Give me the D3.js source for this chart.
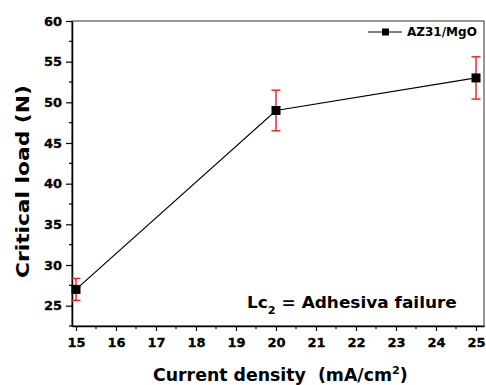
<!DOCTYPE html>
<html>
<head>
<meta charset="utf-8">
<script src="https://cdn.jsdelivr.net/npm/d3@7"></script>
<style>
  body { margin: 0; background: #fff; }
  text { font-family: "DejaVu Sans", "Liberation Sans", Arial, sans-serif; font-weight: bold; fill: #000; white-space: pre; }
</style>
</head>
<body>
<div id="chart"></div>
<script>
// data
const density = [15, 20, 25];
const load = [27, 49, 53];
const loadErr = [1.35, 2.5, 2.6];
const xTicks = [15, 16, 17, 18, 19, 20, 21, 22, 23, 24, 25];
const yTicks = [25, 30, 35, 40, 45, 50, 55, 60];
const seriesName = "AZ31/MgO";

const width = 486, height = 385;
const padL = 72, padR = 484, padT = 21, padB = 326;

const svg = d3.select("#chart").append("svg")
  .attr("width", width)
  .attr("height", height);

const x = d3.scaleLinear().domain([14.9, 25.2]).range([padL, padR]);
const y = d3.scaleLinear().domain([22.5, 60]).range([padB, padT]);

// stretch a text element along its own direction so it covers `w` px
function fitText(t, w, x0, y0, rot) {
  const bb = t.node().getBBox();
  const s = w / bb.width;
  t.attr("transform", "translate(" + x0 + "," + y0 + ")" + (rot ? " rotate(" + rot + ")" : "") + " scale(" + s + ",1)");
}

// frame
svg.append("rect")
  .attr("x", padL).attr("y", padT)
  .attr("width", padR - padL).attr("height", padB - padT)
  .attr("fill", "none").attr("stroke", "#333").attr("stroke-width", 1);

// minor ticks
const xMinor = d3.range(15.5, 25, 1);
const yMinor = d3.range(22.5, 60, 5);

svg.append("g").selectAll("line").data(xMinor).join("line")
  .attr("x1", d => x(d)).attr("x2", d => x(d))
  .attr("y1", padB).attr("y2", padB + 3)
  .attr("stroke", "#000").attr("stroke-width", 1.2);

svg.append("g").selectAll("line").data(yMinor).join("line")
  .attr("x1", padL - 3).attr("x2", padL)
  .attr("y1", d => y(d)).attr("y2", d => y(d))
  .attr("stroke", "#000").attr("stroke-width", 1.2);

// axes
const xAxis = svg.append("g")
  .attr("transform", "translate(0," + padB + ")")
  .call(d3.axisBottom(x).tickValues(xTicks).tickSize(5).tickSizeOuter(0).tickPadding(5));

const yAxis = svg.append("g")
  .attr("transform", "translate(" + padL + ",0)")
  .call(d3.axisLeft(y).tickValues(yTicks).tickSize(6).tickSizeOuter(0).tickPadding(4));

[xAxis, yAxis].forEach(g => {
  g.select(".domain").attr("stroke", "#000").attr("stroke-width", 1.5);
  g.selectAll(".tick line").attr("stroke", "#000").attr("stroke-width", 1.2);
  g.selectAll(".tick text")
    .style("font-family", "'DejaVu Sans', sans-serif")
    .style("font-weight", "bold")
    .style("font-size", "13px")
    .attr("fill", "#000")
    .attr("stroke", "#000")
    .attr("stroke-width", 0.3);
});
xAxis.selectAll(".tick text").attr("dy", "0.85em");

// line
const pts = density.map((d, i) => ({ x: d, y: load[i], e: loadErr[i] }));
svg.append("path")
  .datum(pts)
  .attr("fill", "none")
  .attr("stroke", "#000")
  .attr("stroke-width", 1.2)
  .attr("d", d3.line().x(d => x(d.x)).y(d => y(d.y)));

// error bars
const eb = svg.append("g").attr("stroke", "#ee1c1c").attr("stroke-width", 1.4);
pts.forEach(p => {
  eb.append("line")
    .attr("x1", x(p.x)).attr("x2", x(p.x))
    .attr("y1", y(p.y + p.e)).attr("y2", y(p.y - p.e));
  [p.y + p.e, p.y - p.e].forEach(v => {
    eb.append("line")
      .attr("x1", x(p.x) - 4.5).attr("x2", x(p.x) + 4.5)
      .attr("y1", y(v)).attr("y2", y(v));
  });
});

// markers
svg.append("g").selectAll("rect").data(pts).join("rect")
  .attr("x", d => x(d.x) - 4.5)
  .attr("y", d => y(d.y) - 4.5)
  .attr("width", 9).attr("height", 9)
  .attr("fill", "#000");

// legend
const lg = svg.append("g").attr("transform", "translate(368,32)");
lg.append("line").attr("x1", 0).attr("x2", 34).attr("y1", 0).attr("y2", 0)
  .attr("stroke", "#000").attr("stroke-width", 1.2);
lg.append("rect").attr("x", 14).attr("y", -3.5).attr("width", 7).attr("height", 7).attr("fill", "#000");
const lt = svg.append("text").style("font-size", "12px").text(seriesName);
fitText(lt, 70, 407, 36);

// annotation
const ann = svg.append("text").style("font-size", "15px");
ann.append("tspan").text("Lc");
ann.append("tspan").attr("dy", 6).style("font-size", "10px").text("2");
ann.append("tspan").attr("dy", -6).text(" = Adhesiva failure");
fitText(ann, 210, 247, 308);

// axis titles
const xt = svg.append("text").style("font-size", "17px");
xt.append("tspan").text("Current density  (mA/cm");
xt.append("tspan").attr("dy", -7).style("font-size", "11px").text("2");
xt.append("tspan").attr("dy", 7).text(")");
fitText(xt, 255, 153, 381);

const yt = svg.append("text").style("font-size", "18px").text("Critical load (N)");
fitText(yt, 193, 29, 278, -90);
</script>
</body>
</html>
